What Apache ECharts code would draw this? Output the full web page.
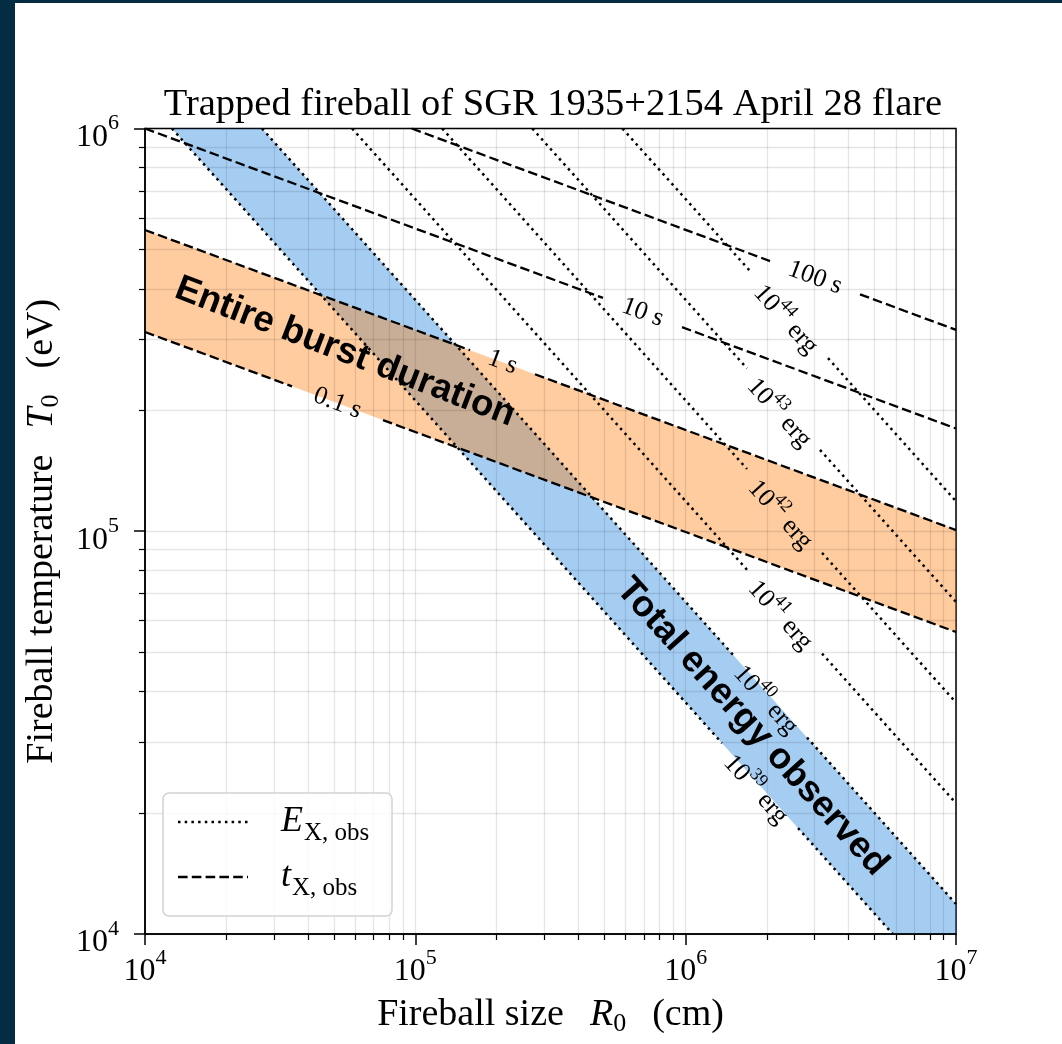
<!DOCTYPE html>
<html>
<head>
<meta charset="utf-8">
<title>Trapped fireball of SGR 1935+2154 April 28 flare</title>
<script src="https://cdn.jsdelivr.net/npm/echarts@6/dist/echarts.min.js"></script>
<style>
  html, body { margin: 0; padding: 0; width: 1062px; height: 1044px; overflow: hidden; background: #042d44; }
  #chart { position: absolute; left: 15px; top: 3px; width: 1047px; height: 1041px; background: #ffffff; }
</style>
</head>
<body>
<div id="chart"></div>
<script>
// ---- Radiated-energy contours E_X,obs = 10^n erg (dotted), [R0 (cm), T0 (eV)] ----
const energyExponents = [39, 40, 41, 42, 43, 44];
const energyStart   = [[1.258e4, 1e6], [2.709e4, 1e6], [5.837e4, 1e6], [1.2575e5, 1e6], [2.709e5, 1e6], [5.837e5, 1e6]];
const energyGapFrom = [[1.3627e6, 2.977e4], [1.4966e6, 4.935e4], [1.686e6, 8.026e4], [1.686e6, 1.4273e5], [1.686e6, 2.5375e5], [1.760e6, 4.371e5]];
const energyGapTo   = [[2.604e6, 1.832e4], [2.811e6, 3.076e4], [3.195e6, 4.970e4], [3.195e6, 8.838e4], [3.141e6, 1.5919e5], [3.361e6, 2.690e5]];
const energyEnd     = [[5.837e6, 1e4], [1e7, 1.187e4], [1e7, 2.112e4], [1e7, 3.755e4], [1e7, 6.677e4], [1e7, 1.1874e5]];
const energyLabelAt = [[1.884e6, 2.336e4], [2.051e6, 3.896e4], [2.321e6, 6.317e4], [2.321e6, 1.123e5], [2.301e6, 2.010e5], [2.432e6, 3.429e5]];

// ---- Burst-duration contours t_X,obs (dashed) ----
const durationNames   = ['0.1 s', '1 s', '10 s', '100 s'];
const durationStart   = [[1e4, 3.124e5], [1e4, 5.598e5], [1e4, 1e6], [9.698e4, 1e6]];
const durationGapFrom = [[3.498e4, 2.289e5], [1.593e5, 2.815e5], [4.945e5, 3.796e5], [2.051e6, 4.687e5]];
const durationGapTo   = [[7.593e4, 1.888e5], [2.771e5, 2.454e5], [9.693e5, 3.212e5], [4.415e6, 3.874e5]];
const durationEnd     = [[1e7, 5.62e4], [1e7, 1.0069e5], [1e7, 1.799e5], [1e7, 3.162e5]];
const durationLabelAt = [[5.153e4, 2.079e5], [2.101e5, 2.628e5], [6.925e5, 3.491e5], [3.010e6, 4.262e5]];

// ---- Shaded regions: observed total energy (10^39-10^40 erg) and burst duration (0.1-1 s) ----
const energyBand   = [[1.258e4, 1e6], [5.837e6, 1e4], [1e7, 1e4], [1e7, 1.187e4], [2.709e4, 1e6]];
const durationBand = [[1e4, 5.598e5], [1e7, 1.0069e5], [1e7, 5.62e4], [1e4, 3.124e5]];

// ---- Region captions ----
const bandNotes  = ['Entire burst duration', 'Total energy observed'];
const bandNoteAt = [[5.495e4, 2.786e5], [1.760e6, 3.266e4]];

// ---- Axes ----
const xRange = [1e4, 1e7];
const yRange = [1e4, 1e6];
const chartTitle = 'Trapped fireball of SGR 1935+2154 April 28 flare';

const SERIF = '"Liberation Serif", "Times New Roman", serif';
const SANS = '"Liberation Sans", Arial, sans-serif';
const DOT = [2.5, 4.2];
const DASH = [9.6, 4.2];

function segment(a, b, dash, width) {
  return {
    type: 'line', data: [a, b], symbol: 'none', silent: true, animation: false, z: 5, clip: true,
    lineStyle: { color: '#000', width: width, type: dash, cap: 'butt', opacity: 1 }
  };
}

function band(points, fill, z) {
  return {
    type: 'custom', coordinateSystem: 'cartesian2d', data: [points[0]], silent: true,
    animation: false, z: z, clip: true,
    renderItem: function (params, api) {
      return { type: 'polygon', shape: { points: points.map(function (p) { return api.coord(p); }) }, style: { fill: fill } };
    }
  };
}

const series = [];
series.push(band(energyBand, 'rgba(30,130,222,0.4)', 1));
series.push(band(durationBand, 'rgba(255,127,14,0.4)', 1.5));

energyExponents.forEach(function (n, i) {
  series.push(segment(energyStart[i], energyGapFrom[i], DOT, 2.5));
  series.push(segment(energyGapTo[i], energyEnd[i], DOT, 2.5));
});
durationNames.forEach(function (n, i) {
  series.push(segment(durationStart[i], durationGapFrom[i], DASH, 2.3));
  series.push(segment(durationGapTo[i], durationEnd[i], DASH, 2.3));
});

const labelBase = {
  show: true, position: 'inside', color: '#000', opacity: 1,
  textBorderWidth: 0, textShadowBlur: 0
};

// contour labels
series.push({
  type: 'scatter', silent: true, animation: false, z: 6, symbolSize: 0,
  itemStyle: { color: '#000', opacity: 1 },
  data: energyLabelAt.map(function (p, i) {
    return { value: p, label: { formatter: '{n|10}{s|' + energyExponents[i] + '}{n| erg}' } };
  }),
  label: Object.assign({}, labelBase, {
    rotate: -48.2,
    rich: {
      n: { fontFamily: SERIF, fontSize: 26, lineHeight: 26, padding: [6, 0, 0, 0], verticalAlign: 'top', color: '#000' },
      s: { fontFamily: SERIF, fontSize: 18, lineHeight: 18, verticalAlign: 'top', color: '#000' }
    }
  })
});
series.push({
  type: 'scatter', silent: true, animation: false, z: 6, symbolSize: 0,
  itemStyle: { color: '#000', opacity: 1 },
  data: durationLabelAt.map(function (p, i) {
    return { value: p, label: { formatter: durationNames[i] } };
  }),
  label: Object.assign({}, labelBase, { rotate: -20.3, fontFamily: SERIF, fontSize: 26 })
});
// region captions
series.push({
  type: 'scatter', silent: true, animation: false, z: 7, symbolSize: 0,
  itemStyle: { color: '#000', opacity: 1 },
  data: bandNoteAt.map(function (p, i) {
    return { value: p, label: { formatter: bandNotes[i], rotate: i === 0 ? -21 : -48 } };
  }),
  label: Object.assign({}, labelBase, { fontFamily: SANS, fontWeight: 'bold', fontSize: 36.5 })
});

function powLabel(v) {
  return '{b|10}{p|' + Math.round(Math.log10(v)) + '}';
}
const tickRich = {
  b: { fontFamily: SERIF, fontSize: 32, lineHeight: 32, padding: [9, 0, 0, 0], verticalAlign: 'top', color: '#000' },
  p: { fontFamily: SERIF, fontSize: 22, lineHeight: 22, verticalAlign: 'top', color: '#000' }
};
const nameRich = {
  t: { fontFamily: SERIF, fontSize: 38, lineHeight: 38, verticalAlign: 'top', color: '#000' },
  i: { fontFamily: SERIF, fontSize: 38, lineHeight: 38, fontStyle: 'italic', verticalAlign: 'top', color: '#000' },
  sub: { fontFamily: SERIF, fontSize: 26, lineHeight: 26, padding: [15, 0, 0, 0], verticalAlign: 'top', color: '#000' },
  g: { fontFamily: SERIF, fontSize: 38, lineHeight: 38, width: 26, verticalAlign: 'top' }
};
const legendRich = {
  i: { fontFamily: SERIF, fontSize: 36, lineHeight: 36, fontStyle: 'italic', verticalAlign: 'top', color: '#000' },
  sub: { fontFamily: SERIF, fontSize: 25, lineHeight: 25, padding: [17, 0, 0, 1], verticalAlign: 'top', color: '#000' }
};

function logAxis(range, extra) {
  return Object.assign({
    type: 'log', logBase: 10, min: range[0], max: range[1], z: 3,
    nameLocation: 'middle',
    nameTextStyle: { rich: nameRich },
    axisLine: { show: true, onZero: false, lineStyle: { color: '#000', width: 1.5 } },
    axisTick: { show: true, inside: false, length: 11, lineStyle: { color: '#000', width: 1.5 } },
    minorTick: { show: true, splitNumber: 9, length: 6, lineStyle: { color: '#000', width: 1.2 } },
    splitLine: { show: true, lineStyle: { color: 'rgba(0,0,0,0.1)', width: 1.3 } },
    minorSplitLine: { show: true, lineStyle: { color: 'rgba(0,0,0,0.1)', width: 1.3 } }
  }, extra);
}

const chart = echarts.init(document.getElementById('chart'), null, { renderer: 'canvas' });
chart.setOption({
  animation: false,
  backgroundColor: '#ffffff',
  title: {
    text: chartTitle, left: 533, top: 77, textAlign: 'center',
    textStyle: { fontFamily: SERIF, fontSize: 38.5, fontWeight: 'normal', color: '#000' }
  },
  grid: {
    left: 130, right: 106, top: 125.5, bottom: 110,
    show: true, borderColor: '#000', borderWidth: 1.5, backgroundColor: 'transparent',
    containLabel: false, outerBoundsMode: 'none'
  },
  xAxis: logAxis(xRange, {
    name: '{t|Fireball size}{g| }{i|R}{sub|0}{g| }{t|(cm)}', nameGap: 62,
    axisLabel: { formatter: powLabel, rich: tickRich, margin: 13, showMinLabel: true, showMaxLabel: true }
  }),
  yAxis: logAxis(yRange, {
    name: '{t|Fireball temperature}{g| }{i|T}{sub|0}{g| }{t|(eV)}', nameGap: 84, nameRotate: 90,
    axisLabel: { formatter: powLabel, rich: tickRich, margin: 26, showMinLabel: true, showMaxLabel: true }
  }),
  series: series,
  graphic: [
    {
      type: 'rect', z: 20, silent: true,
      shape: { x: 148, y: 790, width: 229, height: 123, r: 6 },
      style: { fill: 'rgba(255,255,255,0.8)', stroke: '#d2d2d2', lineWidth: 1.5 }
    },
    {
      type: 'line', z: 21, silent: true,
      shape: { x1: 163, y1: 819, x2: 233, y2: 819 },
      style: { stroke: '#000', lineWidth: 2.5, lineDash: DOT }
    },
    {
      type: 'line', z: 21, silent: true,
      shape: { x1: 163, y1: 874, x2: 233, y2: 874 },
      style: { stroke: '#000', lineWidth: 2.5, lineDash: DASH }
    },
    {
      type: 'text', z: 21, silent: true, x: 266, y: 819,
      style: { text: '{i|E}{sub|X, obs}', rich: legendRich, verticalAlign: 'middle', align: 'left' }
    },
    {
      type: 'text', z: 21, silent: true, x: 266, y: 874,
      style: { text: '{i|t}{sub|X, obs}', rich: legendRich, verticalAlign: 'middle', align: 'left' }
    }
  ]
});
</script>
</body>
</html>
